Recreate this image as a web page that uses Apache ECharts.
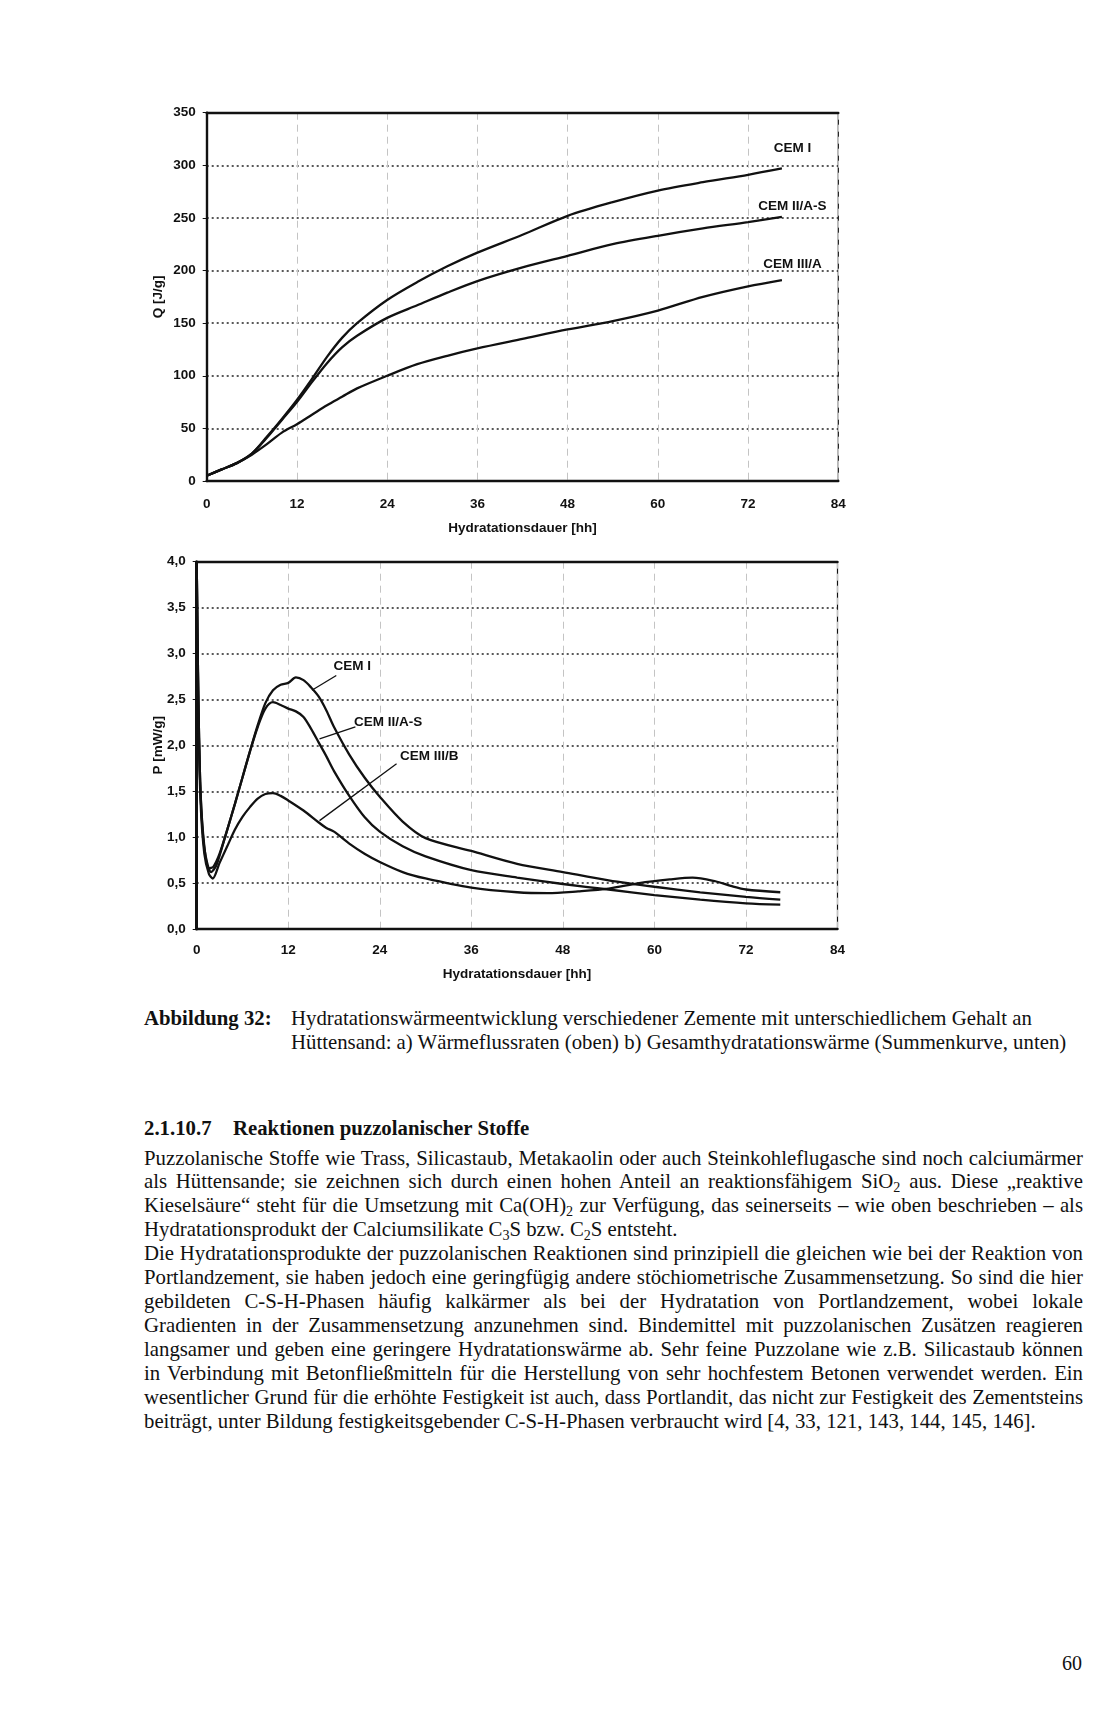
<!DOCTYPE html>
<html><head><meta charset="utf-8">
<script src="https://cdn.jsdelivr.net/npm/echarts/dist/echarts.min.js"></script>
<style>
html,body{margin:0;padding:0;background:#fff;}
body{width:1117px;height:1720px;position:relative;overflow:hidden;font-family:"Liberation Serif","Times New Roman",serif;color:#111;}
#chart{position:absolute;left:0;top:0;width:1117px;height:1000px;}
.ln{position:absolute;white-space:nowrap;line-height:24px;display:inline-block;}
sub{font-size:0.68em;vertical-align:-0.28em;line-height:0;}
</style></head><body>
<div id="chart"></div>
<div id="text"></div>
<script>
// ---------- data: top chart (cumulative heat Q) ----------
const hoursQ = [0,2,4,6,8,10,12,14,16,18,20,24,28,32,36,42,48,54,60,66,72,76.5];
const qCEM1  = [5,11,17,26,42,59,77,97,118,136,150,172,189,204,217,234,252,265,276,284,291,297];
const qCEM2A = [5,11,17,26,41,58,75,94,112,127,138,155,167,179,190,203,214,225,233,240,246,251];
const qCEM3A = [5,11,17,25,35,46,54,63,72,80,88,100,111,119,126,135,144,152,162,175,185,191];
const xTicks = [0,12,24,36,48,60,72,84];
const qLabels = ['CEM I','CEM II/A-S','CEM III/A'];
const qLabelPos = [[77.9,316],[77.9,261],[77.9,206]];

// ---------- data: bottom chart (heat flow P) ----------
const hoursP1 = [0,0.2,0.5,1,1.6,2.2,3,4,5,6,7,8,9,10,11,12,13,14,15,16,17,18,20,22,24,27,30,36,42,48,54,60,66,72,76.5];
const pCEM1   = [4.0,2.6,1.5,0.9,0.66,0.68,0.82,1.08,1.36,1.65,1.94,2.22,2.46,2.6,2.66,2.68,2.74,2.71,2.63,2.53,2.38,2.2,1.9,1.65,1.44,1.17,0.99,0.85,0.71,0.62,0.53,0.46,0.40,0.35,0.32];
const hoursP2 = [0,0.2,0.5,1,1.9,2.5,3,4,5,6,7,8,9,10,11,12,13,14,15,16,17,18,20,22,24,27,30,36,42,48,54,60,66,72,76.5];
const pCEM2A  = [4.0,2.6,1.5,0.88,0.62,0.68,0.8,1.08,1.36,1.65,1.94,2.2,2.4,2.47,2.44,2.40,2.37,2.31,2.18,2.03,1.88,1.72,1.45,1.22,1.06,0.9,0.79,0.64,0.56,0.49,0.43,0.37,0.32,0.28,0.265];
const hoursP3 = [0,0.2,0.5,1,1.6,2.1,3,4,5,6,7,8,9,10,11,12,14,16,17,18,20,22,24,27,30,36,42,46,50,54,58,62,65,68,70,72,76.5];
const pCEM3B  = [4.0,2.5,1.4,0.82,0.6,0.55,0.72,0.9,1.08,1.22,1.33,1.42,1.47,1.48,1.45,1.40,1.29,1.16,1.1,1.06,0.93,0.82,0.73,0.62,0.55,0.45,0.40,0.39,0.41,0.44,0.50,0.54,0.56,0.52,0.47,0.43,0.40];
const pLabels = ['CEM I','CEM II/A-S','CEM III/B'];
const pLabelPos = [[20.4,2.86],[25.1,2.25],[30.5,1.88]];
const pLeaders = [[[15.1,2.60],[18.3,2.76]],[[16.1,2.07],[20.8,2.20]],[[16.1,1.18],[26.2,1.80]]];

const zip = (xs, ys) => xs.map((x,i)=>[x, ys[i]]);
const FONT = 'Liberation Sans, Arial, sans-serif';
const tickFont = {fontFamily:FONT, fontWeight:'bold', fontSize:13.5, color:'#111'};
const nameFont = {fontFamily:FONT, fontWeight:'bold', fontSize:13.5, color:'#111'};

function curve(name, data, xi, yi, extra){
  return Object.assign({
    type:'line', name, data, xAxisIndex:xi, yAxisIndex:yi,
    showSymbol:false, symbol:'none', smooth:0.3,
    lineStyle:{color:'#111', width:2.3}, itemStyle:{color:'#111'}, silent:true, z:5
  }, extra||{});
}
function labelPoints(names, pos){
  return {
    symbol:'circle', symbolSize:1, itemStyle:{color:'rgba(0,0,0,0)'}, silent:true,
    label:{show:true, position:'inside', formatter:'{b}', fontFamily:FONT, fontWeight:'bold', fontSize:13.5, color:'#111'},
    data: names.map((n,i)=>({name:n, coord:pos[i]}))
  };
}

const xAxisBase = (gi, nameGap, labelMargin) => ({
  gridIndex:gi, type:'value', min:0, max:84, interval:12,
  name:'Hydratationsdauer [hh]', nameLocation:'middle', nameGap:nameGap, nameTextStyle:nameFont,
  nameMoveOverlap:false,
  axisLine:{show:true, onZero:false, lineStyle:{color:'#111', width:2.4}},
  axisTick:{show:false},
  axisLabel:Object.assign({margin:labelMargin}, tickFont),
  splitLine:{show:true, lineStyle:{color:'#c4c4c4', width:1, type:[7,5]}}
});
const topBorder = gi => ({
  gridIndex:gi, type:'value', min:0, max:84, position:'top',
  axisLine:{show:true, onZero:false, lineStyle:{color:'#111', width:2.4}},
  axisTick:{show:false}, axisLabel:{show:false}, splitLine:{show:false}
});

const option = {
  animation:false,
  backgroundColor:'#fff',
  grid:[
    {left:206.7, top:112.7, width:631.6, height:368.3, show:true, borderColor:'#111', borderWidth:1.2, backgroundColor:'transparent'},
    {left:196.7, top:561.7, width:640.8, height:367.3, show:true, borderColor:'#111', borderWidth:1.2, backgroundColor:'transparent'}
  ],
  xAxis:[ xAxisBase(0, 40, 16), xAxisBase(1, 38, 14), topBorder(0), topBorder(1) ],
  yAxis:[
    { gridIndex:0, type:'value', min:0, max:350, interval:50,
      name:'Q [J/g]', nameLocation:'middle', nameGap:41, nameTextStyle:nameFont, nameMoveOverlap:false,
      axisLine:{show:true, lineStyle:{color:'#111', width:2.4}},
      axisTick:{show:true, length:4, lineStyle:{color:'#111'}},
      axisLabel:Object.assign({margin:11}, tickFont),
      splitLine:{show:true, lineStyle:{color:'#222', width:1.5, type:[2,3]}} },
    { gridIndex:1, type:'value', min:0, max:4, interval:0.5,
      name:'P [mW/g]', nameLocation:'middle', nameGap:31, nameTextStyle:nameFont, nameMoveOverlap:false,
      axisLine:{show:true, lineStyle:{color:'#111', width:3}},
      axisTick:{show:true, length:4, lineStyle:{color:'#111'}},
      axisLabel:Object.assign({margin:11, formatter:v=>v.toFixed(1).replace('.',',')}, tickFont),
      splitLine:{show:true, lineStyle:{color:'#222', width:1.5, type:[2,3]}} }
  ],
  series:[
    curve('CEM I', zip(hoursQ,qCEM1), 0, 0, {markPoint:labelPoints(qLabels, qLabelPos)}),
    curve('CEM II/A-S', zip(hoursQ,qCEM2A), 0, 0),
    curve('CEM III/A', zip(hoursQ,qCEM3A), 0, 0),
    curve('CEM I', zip(hoursP1,pCEM1), 1, 1, {
      markPoint:labelPoints(pLabels, pLabelPos),
      markLine:{silent:true, symbol:['none','none'], label:{show:false},
        lineStyle:{color:'#111', width:1.3, type:'solid'},
        data: pLeaders.map(seg=>[{coord:seg[0]},{coord:seg[1]}])}
    }),
    curve('CEM II/A-S', zip(hoursP2,pCEM2A), 1, 1),
    curve('CEM III/B', zip(hoursP3,pCEM3B), 1, 1)
  ]
};
const chart = echarts.init(document.getElementById('chart'), null, {renderer:'canvas'});
chart.setOption(option);

// ---------- page text ----------
const lines = [
  {y:1018, x:144, html:'<b>Abbildung 32:</b>'},
  {y:1018, x:291, html:'Hydratationswärmeentwicklung verschiedener Zemente mit unterschiedlichem Gehalt an'},
  {y:1042, x:291, html:'Hüttensand: a) Wärmeflussraten (oben) b) Gesamthydratationswärme (Summenkurve, unten)'},
  {y:1127.5, x:144, html:'<b>2.1.10.7</b>'},
  {y:1127.5, x:233, html:'<b>Reaktionen puzzolanischer Stoffe</b>'},
  {y:0, x:144, j:1, html:'Puzzolanische Stoffe wie Trass, Silicastaub, Metakaolin oder auch Steinkohleflugasche sind noch calciumärmer'},
  {y:1, x:144, j:1, html:'als Hüttensande; sie zeichnen sich durch einen hohen Anteil an reaktionsfähigem SiO<sub>2</sub> aus. Diese „reaktive'},
  {y:2, x:144, j:1, html:'Kieselsäure“ steht für die Umsetzung mit Ca(OH)<sub>2</sub> zur Verfügung, das seinerseits – wie oben beschrieben – als'},
  {y:3, x:144, html:'Hydratationsprodukt der Calciumsilikate C<sub>3</sub>S bzw. C<sub>2</sub>S entsteht.'},
  {y:4, x:144, j:1, html:'Die Hydratationsprodukte der puzzolanischen Reaktionen sind prinzipiell die gleichen wie bei der Reaktion von'},
  {y:5, x:144, j:1, html:'Portlandzement, sie haben jedoch eine geringfügig andere stöchiometrische Zusammensetzung. So sind die hier'},
  {y:6, x:144, j:1, html:'gebildeten C-S-H-Phasen häufig kalkärmer als bei der Hydratation von Portlandzement, wobei lokale'},
  {y:7, x:144, j:1, html:'Gradienten in der Zusammensetzung anzunehmen sind. Bindemittel mit puzzolanischen Zusätzen reagieren'},
  {y:8, x:144, j:1, html:'langsamer und geben eine geringere Hydratationswärme ab. Sehr feine Puzzolane wie z.B. Silicastaub können'},
  {y:9, x:144, j:1, html:'in Verbindung mit Betonfließmitteln für die Herstellung von sehr hochfestem Betonen verwendet werden. Ein'},
  {y:10, x:144, j:1, html:'wesentlicher Grund für die erhöhte Festigkeit ist auch, dass Portlandit, das nicht zur Festigkeit des Zementsteins'},
  {y:11, x:144, ref:1, html:'beiträgt, unter Bildung festigkeitsgebender C-S-H-Phasen verbraucht wird [4, 33, 121, 143, 144, 145, 146].'}
];
const holder = document.getElementById('text');
const probe = document.createElement('span');
probe.className = 'ln'; probe.style.fontSize = '20px';
probe.innerHTML = lines[lines.length-1].html;
holder.appendChild(probe);
const fs = 20 * 892 / probe.getBoundingClientRect().width;
holder.removeChild(probe);
const justW = 939;
lines.forEach(l => {
  const el = document.createElement('span');
  el.className = 'ln';
  el.style.fontSize = fs.toFixed(2) + 'px';
  el.innerHTML = l.html;
  const yc = (l.y < 100) ? 1157.5 + 23.95 * l.y : l.y;
  el.style.top = (yc - 12) + 'px';
  el.style.left = l.x + 'px';
  holder.appendChild(el);
  if (l.j) {
    const w = el.getBoundingClientRect().width;
    const n = (el.textContent.match(/ /g) || []).length;
    if (n) el.style.wordSpacing = ((justW - w) / n).toFixed(3) + 'px';
  }
});
const pn = document.createElement('span');
pn.className = 'ln'; pn.style.fontSize = '20px'; pn.textContent = '60';
pn.style.top = (1663 - 12) + 'px'; pn.style.left = '1062px';
holder.appendChild(pn);
</script>
</body></html>
